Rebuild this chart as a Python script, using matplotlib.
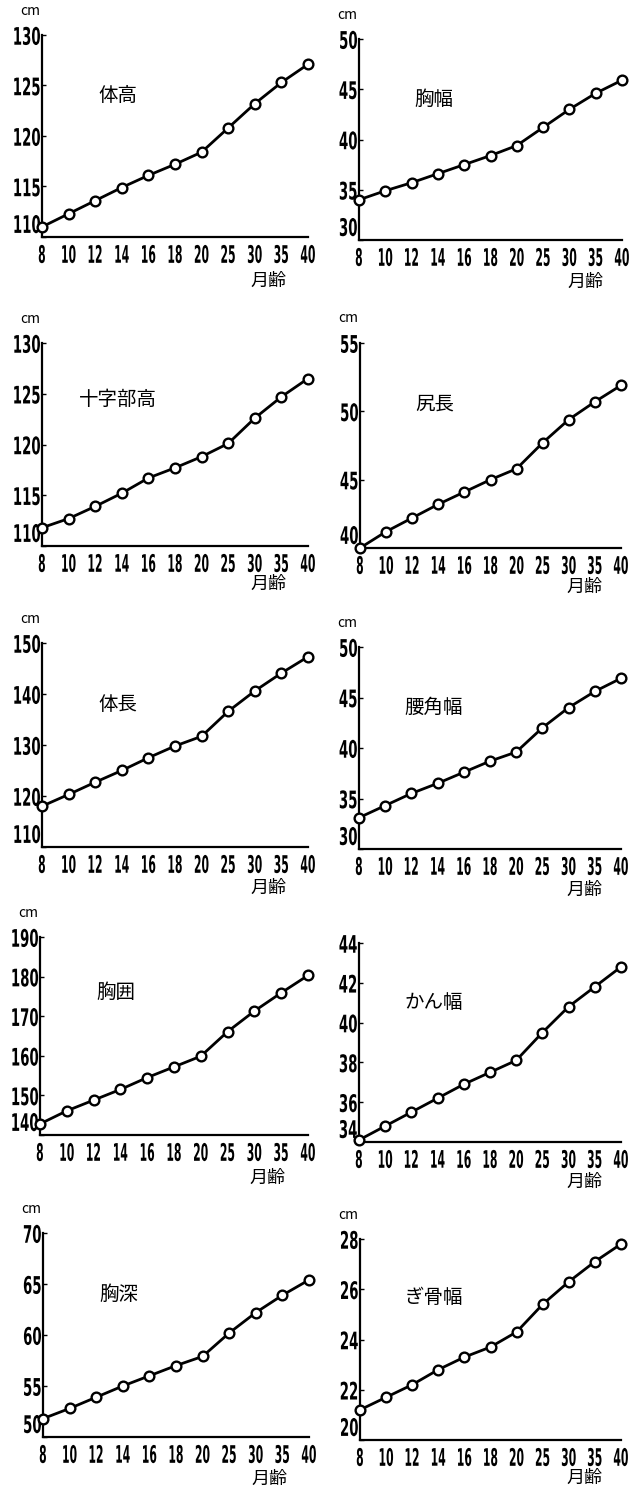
import matplotlib
matplotlib.use("Agg")
import matplotlib.pyplot as plt
import matplotlib.patheffects as pe
from matplotlib.transforms import Affine2D

W, H = 642, 1490

months = ["8", "10", "12", "14", "16", "18", "20", "25", "30", "35", "40"]

names = ["体高", "胸幅", "十字部高", "尻長", "体長", "腰角幅", "胸囲", "かん幅", "胸深", "ぎ骨幅"]

taikou = [111.0, 112.3, 113.6, 114.9, 116.1, 117.2, 118.4, 120.8, 123.2, 125.3, 127.1]
kyoufuku = [34.0, 34.9, 35.7, 36.6, 37.5, 38.4, 39.4, 41.2, 43.0, 44.6, 45.9]
juujibukou = [111.8, 112.7, 113.9, 115.2, 116.7, 117.7, 118.8, 120.1, 122.6, 124.7, 126.5]
shirichou = [40.0, 41.2, 42.2, 43.2, 44.1, 45.0, 45.8, 47.7, 49.4, 50.7, 51.9]
taichou = [118.0, 120.3, 122.7, 125.0, 127.5, 129.8, 131.7, 136.6, 140.6, 144.1, 147.3]
youkakufuku = [33.1, 34.3, 35.5, 36.5, 37.6, 38.7, 39.6, 42.0, 44.0, 45.6, 46.9]
kyoui = [142.8, 146.1, 148.8, 151.5, 154.5, 157.2, 159.9, 166.1, 171.3, 175.9, 180.3]
kanfuku = [34.1, 34.8, 35.5, 36.2, 36.9, 37.5, 38.1, 39.5, 40.8, 41.8, 42.8]
kyoushin = [51.8, 52.8, 53.9, 55.0, 56.0, 57.0, 57.9, 60.2, 62.2, 63.9, 65.4]
gikotsufuku = [21.2, 21.7, 22.2, 22.8, 23.3, 23.7, 24.3, 25.4, 26.3, 27.1, 27.8]

series = [taikou, kyoufuku, juujibukou, shirichou, taichou,
          youkakufuku, kyoui, kanfuku, kyoushin, gikotsufuku]

yticks = [
    [110, 115, 120, 125, 130],
    [30, 35, 40, 45, 50],
    [110, 115, 120, 125, 130],
    [40, 45, 50, 55],
    [110, 120, 130, 140, 150],
    [30, 35, 40, 45, 50],
    [140, 150, 160, 170, 180, 190],
    [34, 36, 38, 40, 42, 44],
    [50, 55, 60, 65, 70],
    [20, 22, 24, 26, 28],
]
show_cm = [True, True, True, True, True, True, True, False, True, True]

# panel boxes in pixels: left, top, right, bottom
boxes = [
    (42, 35, 308, 237), (359, 39, 622, 240),
    (42, 343, 308, 546), (360, 343, 621, 548),
    (42, 643, 308, 847), (359, 647, 621, 849),
    (40, 937, 308, 1135), (359, 943, 621, 1142),
    (43, 1233, 309, 1437), (360, 1239, 621, 1440),
]
# distance (px) from the x axis down to the "月齢" label
unit_drop = [44, 42, 38, 39, 41, 41, 43, 40, 42, 38]
title_y = [0.70, 0.70, 0.72, 0.70, 0.70, 0.70, 0.72, 0.70, 0.70, 0.71]

num_font = "DejaVu Sans"
jp_font = ["Noto Sans CJK JP", "DejaVu Sans"]


# squeeze digits into the tall narrow look of the printed figure
class Stretch(pe.AbstractPathEffect):
    def __init__(self, sx, sy, xanchor, yanchor):
        super().__init__()
        self.sx, self.sy = sx, sy
        self.xanchor, self.yanchor = xanchor, yanchor

    def draw_path(self, renderer, gc, tpath, affine, rgbFace=None):
        v = tpath.vertices
        if len(v) == 0:
            return
        x0, x1 = v[:, 0].min(), v[:, 0].max()
        y0, y1 = v[:, 1].min(), v[:, 1].max()
        px = {"left": x0, "center": (x0 + x1) / 2, "right": x1}[self.xanchor]
        py = {"bottom": y0, "center": (y0 + y1) / 2, "top": y1}[self.yanchor]
        sq = Affine2D().translate(-px, -py).scale(self.sx, self.sy).translate(px, py)
        m = Affine2D(affine.get_matrix() @ sq.get_matrix())
        renderer.draw_path(gc, tpath, m, rgbFace)


fig = plt.figure(figsize=(W / 100, H / 100), dpi=100)

for i in range(10):
    l, t, r, b = boxes[i]
    ax = fig.add_axes([l / W, 1 - b / H, (r - l) / W, (b - t) / H])
    x = list(range(len(months)))
    ax.plot(x, series[i], color="black", lw=2.0, marker="o", ms=7,
            mfc="white", mec="black", mew=1.7, clip_on=False, zorder=3)
    ax.set_xlim(0, len(months) - 1)
    ax.set_ylim(yticks[i][0], yticks[i][-1])
    ax.set_xticks(x)
    ax.set_xticklabels(months, family=num_font, fontsize=12, fontweight="bold")
    ax.set_yticks(yticks[i])
    ax.set_yticklabels([str(v) for v in yticks[i]], family=num_font,
                       fontsize=12, fontweight="bold")
    ax.tick_params(axis="x", length=0, pad=4.5)
    ax.tick_params(axis="y", direction="in", length=3, width=1, pad=1)
    for s in ["top", "right"]:
        ax.spines[s].set_visible(False)
    for s in ["left", "bottom"]:
        ax.spines[s].set_linewidth(1.6)
    ax.patch.set_alpha(0)

    for lab in ax.get_xticklabels():
        lab.set_path_effects([Stretch(0.65, 1.45, "center", "top")])
    ylabs = ax.get_yticklabels()
    for k, lab in enumerate(ylabs):
        if k == 0:
            lab.set_verticalalignment("bottom")
            lab.set_path_effects([Stretch(0.8, 1.45, "right", "bottom")])
        else:
            lab.set_path_effects([Stretch(0.8, 1.45, "right", "center")])

    ax.text(0.285, title_y[i], names[i], transform=ax.transAxes, family=jp_font,
            fontsize=14, ha="center", va="center")
    ux = 0.85 if i % 2 == 0 else 0.86
    uy = -unit_drop[i] / (b - t)
    ax.text(ux, uy, "月齢", transform=ax.transAxes, family=jp_font,
            fontsize=13, ha="center", va="center")
    if show_cm[i]:
        ax.text(-0.045, 1.12, "cm", transform=ax.transAxes, family=jp_font,
                fontsize=10, ha="center", va="center")

fig.savefig("out.png", dpi=100)
